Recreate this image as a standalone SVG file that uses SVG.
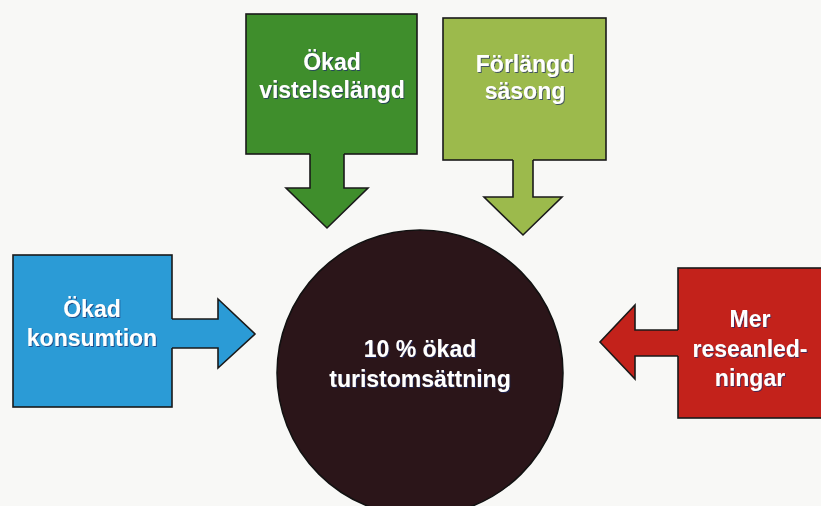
<svg xmlns="http://www.w3.org/2000/svg" width="821" height="506" viewBox="0 0 821 506">
<defs>
<style>
.box{stroke:#1a1a1a;stroke-width:1.6}
.fill{stroke:none}
.edge{fill:none;stroke:#1a1a1a;stroke-width:1.6;stroke-linejoin:miter}
.t{font-family:"Liberation Sans",Arial,sans-serif;font-weight:bold;font-size:23px;fill:#ffffff;text-anchor:middle}
.dg{fill:#3f8e2c}.lg{fill:#9cba4c}.bl{fill:#2b9bd6}.rd{fill:#c3221b}
</style>
<filter id="sh" x="-10%" y="-10%" width="120%" height="130%">
<feDropShadow dx="1" dy="1" stdDeviation="0.4" flood-color="#1a2a6a" flood-opacity="0.7"/>
</filter>
</defs>
<rect width="821" height="506" fill="#f8f8f6"/>

<g id="center">
<circle cx="420" cy="373" r="143" fill="#2b1519" stroke="#111" stroke-width="1.5"/>
<text class="t" filter="url(#sh)" x="420" y="357">10 % ökad</text>
<text class="t" filter="url(#sh)" x="420" y="387">turistomsättning</text>
</g>

<g id="okad-vistelselangd">
<rect class="box dg" x="246" y="14" width="171" height="140"/>
<text class="t" filter="url(#sh)" x="332" y="70">Ökad</text>
<text class="t" filter="url(#sh)" x="332" y="98">vistelselängd</text>
</g>

<g id="forlangd-sasong">
<rect class="box lg" x="443" y="18" width="163" height="142"/>
<text class="t" filter="url(#sh)" x="525" y="72">Förlängd</text>
<text class="t" filter="url(#sh)" x="525" y="99">säsong</text>
</g>

<g id="okad-konsumtion">
<rect class="box bl" x="13" y="255" width="159" height="152"/>
<text class="t" filter="url(#sh)" x="92" y="317">Ökad</text>
<text class="t" filter="url(#sh)" x="92" y="346">konsumtion</text>
</g>

<g id="mer-reseanledningar">
<rect class="box rd" x="678" y="268" width="160" height="150"/>
<text class="t" filter="url(#sh)" x="750" y="327">Mer</text>
<text class="t" filter="url(#sh)" x="750" y="357">reseanled-</text>
<text class="t" filter="url(#sh)" x="750" y="386">ningar</text>
</g>

<g id="connectors">
<path class="fill dg" d="M310 152 L344 152 L344 188 L368 188 L327 228 L286 188 L310 188 Z"/>
<path class="edge" d="M310 154 L310 188 L286 188 L327 228 L368 188 L344 188 L344 154"/>
<path class="fill lg" d="M513 158 L533 158 L533 197 L562 197 L523 235 L484 197 L513 197 Z"/>
<path class="edge" d="M513 160 L513 197 L484 197 L523 235 L562 197 L533 197 L533 160"/>
<path class="fill bl" d="M170 319 L218 319 L218 299 L255 334 L218 368 L218 348 L170 348 Z"/>
<path class="edge" d="M172 319 L218 319 L218 299 L255 334 L218 368 L218 348 L172 348"/>
<path class="fill rd" d="M680 330 L635 330 L635 305 L600 342 L635 379 L635 356 L680 356 Z"/>
<path class="edge" d="M678 330 L635 330 L635 305 L600 342 L635 379 L635 356 L678 356"/>
</g>
</svg>
